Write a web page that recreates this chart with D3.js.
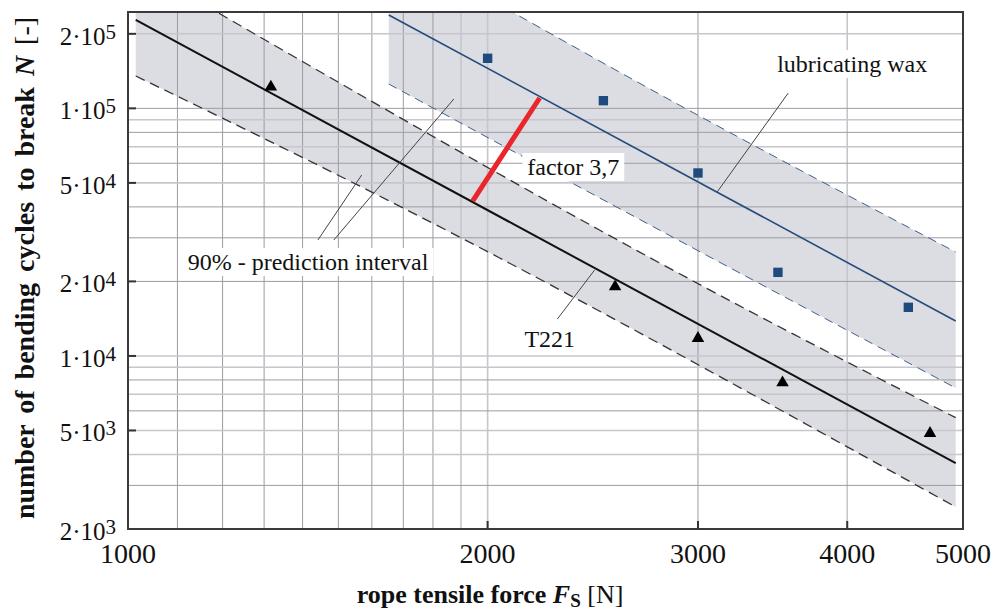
<!DOCTYPE html>
<html>
<head>
<meta charset="utf-8">
<script src="https://cdn.jsdelivr.net/npm/d3@7"></script>
<style>
body { margin: 0; background: #fff; }
text { font-family: "Liberation Serif", "Times New Roman", serif; fill: #111; }
</style>
</head>
<body>
<div id="chart"></div>
<script>
// measured points: rope tensile force [N] and cycles to break
let t221Force = [1317, 2557, 3000, 3531, 4692];
let t221Cycles = [122000, 19050, 11780, 7798, 4872];
let waxForce = [2000, 2500, 3000, 3500, 4500];
let waxCycles = [159300, 107400, 54820, 21760, 15720];

// regression lines (end points)
let t221FitForce = [1015, 4930];
let t221FitCycles = [227500, 3690];
let waxFitForce = [1653, 4930];
let waxFitCycles = [238300, 13840];

// 90% prediction interval limits
let t221UpperForce = [1015, 2481, 4930];
let t221UpperCycles = [379000, 32260, 5632];
let t221LowerForce = [1015, 2047, 4930];
let t221LowerCycles = [135100, 24870, 2455];
let waxUpperForce = [1653, 2893, 4930];
let waxUpperCycles = [469700, 103200, 26290];
let waxLowerForce = [1653, 2785, 4930];
let waxLowerCycles = [125400, 32260, 7424];

// factor 3,7 marker
let factorForce = [1943, 2211];
let factorCycles = [42240, 110100];

// axes
let xTicks = [1000, 2000, 3000, 4000, 5000];
let yTicks = [2e3, 5e3, 1e4, 2e4, 5e4, 1e5, 2e5];
let yTickMantissa = ["2", "5", "1", "2", "5", "1", "2"];
let yTickExponent = ["3", "3", "4", "4", "4", "5", "5"];
let xGrid = [1100, 1200, 1300, 1400, 1500, 1600, 1700, 1800, 1900, 2000, 3000, 4000];
let yGrid = [3e3, 4e3, 5e3, 6e3, 7e3, 8e3, 9e3, 1e4, 2e4, 3e4, 4e4, 5e4, 6e4, 7e4, 8e4, 9e4, 1e5, 2e5];

let width = 995, height = 613;
let box = {left: 128, right: 963, top: 12, bottom: 529};

let svg = d3.select("#chart").append("svg")
    .attr("width", width)
    .attr("height", height);

let x = d3.scaleLog().domain([1000, 5000]).range([box.left, box.right]);
let y = d3.scaleLog().domain([2e3, 2.45e5]).range([box.bottom, box.top]);

let zip = (xs, ys) => xs.map((v, i) => [v, ys[i]]);
let line = d3.line().x(d => x(d[0])).y(d => y(d[1]));
let curve = d3.line().x(d => x(d[0])).y(d => y(d[1])).curve(d3.curveNatural);

svg.append("clipPath").attr("id", "plot")
    .append("rect")
    .attr("x", box.left).attr("y", box.top)
    .attr("width", box.right - box.left).attr("height", box.bottom - box.top);

let plot = svg.append("g").attr("clip-path", "url(#plot)");

// bands
function bandPath(up, low) {
    let a = curve(up);
    let b = curve(low.slice().reverse());
    return a + "L" + b.slice(1) + "Z";
}
let t221Up = zip(t221UpperForce, t221UpperCycles);
let t221Low = zip(t221LowerForce, t221LowerCycles);
let waxUp = zip(waxUpperForce, waxUpperCycles);
let waxLow = zip(waxLowerForce, waxLowerCycles);

plot.append("path").attr("d", bandPath(t221Up, t221Low)).attr("fill", "#dcdde3");
plot.append("path").attr("d", bandPath(waxUp, waxLow)).attr("fill", "#dcdde3");

// grid
let lightX = new Set([1900, 2000, 4000]);
let lightY = new Set([4e3, 5e3, 7e3, 9e3, 1e4, 5e4, 7e4, 9e4, 2e5]);
plot.selectAll(".gx").data(xGrid).enter().append("line")
    .attr("x1", d => x(d)).attr("x2", d => x(d))
    .attr("y1", box.top).attr("y2", box.bottom)
    .attr("stroke", d => lightX.has(d) ? "#c6c6cc" : "#9c9ca2")
    .attr("stroke-width", d => lightX.has(d) ? 1.6 : 1);
plot.selectAll(".gy").data(yGrid).enter().append("line")
    .attr("y1", d => y(d)).attr("y2", d => y(d))
    .attr("x1", box.left).attr("x2", box.right)
    .attr("stroke", d => lightY.has(d) ? "#c6c6cc" : "#9c9ca2")
    .attr("stroke-width", d => lightY.has(d) ? 1.6 : 1);

// dashed interval limits
[t221Up, t221Low].forEach(pts => {
    plot.append("path").attr("d", curve(pts))
        .attr("fill", "none").attr("stroke", "#333")
        .attr("stroke-width", 1.3).attr("stroke-dasharray", "10,6");
});
[waxUp, waxLow].forEach(pts => {
    plot.append("path").attr("d", curve(pts))
        .attr("fill", "none").attr("stroke", "#3d5f8c")
        .attr("stroke-width", 1).attr("stroke-dasharray", "9,6");
});

// regression lines
plot.append("path").attr("d", line(zip(t221FitForce, t221FitCycles)))
    .attr("stroke", "#111").attr("stroke-width", 2).attr("fill", "none");
plot.append("path").attr("d", line(zip(waxFitForce, waxFitCycles)))
    .attr("stroke", "#244c7c").attr("stroke-width", 1.6).attr("fill", "none");

// annotations: leader lines
let leaders = [
    [[3570, 115300], [3113, 45940]],
    [[2288, 14100], [2458, 22230]],
    [[1874, 109100], [1487, 29400]],
    [[1569, 53810], [1442, 29400]]
];
leaders.forEach(l => {
    plot.append("path").attr("d", line(l))
        .attr("stroke", "#444").attr("stroke-width", 1).attr("fill", "none");
});

// labels with white boxes
function label(txt, f, n) {
    let g = svg.append("g");
    let t = g.append("text")
        .attr("x", x(f)).attr("y", y(n))
        .attr("font-size", 24)
        .text(txt);
    let bb = t.node().getBBox();
    g.insert("rect", "text")
        .attr("x", bb.x - 5).attr("y", bb.y - 1)
        .attr("width", bb.width + 10).attr("height", bb.height + 2)
        .attr("fill", "#fff");
}
label("lubricating wax", 3495, 140200);
label("factor 3,7", 2159, 53810);
label("90% - prediction interval", 1122, 22230);
label("T221", 2147, 10900);

// factor line
plot.append("path").attr("d", line(zip(factorForce, factorCycles)))
    .attr("stroke", "#e8262b").attr("stroke-width", 5).attr("fill", "none");

// markers
plot.selectAll(".tri").data(zip(t221Force, t221Cycles)).enter().append("path")
    .attr("d", d3.symbol(d3.symbolTriangle, 68))
    .attr("transform", d => `translate(${x(d[0])},${y(d[1])})`)
    .attr("fill", "#000");
plot.selectAll(".sq").data(zip(waxForce, waxCycles)).enter().append("path")
    .attr("d", d3.symbol(d3.symbolSquare, 88))
    .attr("transform", d => `translate(${x(d[0])},${y(d[1])})`)
    .attr("fill", "#1f4a7d");

// frame and ticks
svg.append("rect")
    .attr("x", box.left).attr("y", box.top)
    .attr("width", box.right - box.left).attr("height", box.bottom - box.top)
    .attr("fill", "none").attr("stroke", "#3a3a3a").attr("stroke-width", 2);

svg.selectAll(".xt").data(xTicks.slice(1, -1)).enter().append("line")
    .attr("x1", d => x(d)).attr("x2", d => x(d))
    .attr("y1", box.bottom).attr("y2", box.bottom - 8)
    .attr("stroke", "#333").attr("stroke-width", 2);
svg.selectAll(".yt").data(yTicks.slice(1)).enter().append("line")
    .attr("y1", d => y(d)).attr("y2", d => y(d))
    .attr("x1", box.left).attr("x2", box.left + 8)
    .attr("stroke", "#333").attr("stroke-width", 2);

svg.selectAll(".xl").data(xTicks).enter().append("text")
    .attr("x", d => x(d)).attr("y", 563)
    .attr("text-anchor", "middle")
    .attr("font-size", 28)
    .text(d => d);

let yl = svg.selectAll(".yl").data(yTicks).enter().append("text")
    .attr("x", 116).attr("y", d => y(d) + 11)
    .attr("text-anchor", "end")
    .attr("font-size", 25);
yl.append("tspan").text((d, i) => yTickMantissa[i] + "\u00b710");
yl.append("tspan").attr("dy", -6).attr("font-size", 21).text((d, i) => yTickExponent[i]);

// axis titles
let xt = svg.append("text")
    .attr("x", 490).attr("y", 603)
    .attr("text-anchor", "middle")
    .attr("font-size", 26).attr("font-weight", "bold");
xt.append("tspan").text("rope tensile force ");
xt.append("tspan").attr("font-style", "italic").text("F");
xt.append("tspan").attr("font-size", 19).attr("dy", 4).text("S");
xt.append("tspan").attr("font-weight", "normal").attr("dy", -4).text(" [N]");

let yt = svg.append("text")
    .attr("transform", "translate(34,268) rotate(-90)")
    .attr("text-anchor", "middle")
    .attr("font-size", 28).attr("font-weight", "bold")
    .attr("word-spacing", 4);
yt.append("tspan").text("number of bending cycles to break ");
yt.append("tspan").attr("font-style", "italic").text("N");
yt.append("tspan").attr("font-weight", "normal").text(" [-]");
</script>
</body>
</html>
